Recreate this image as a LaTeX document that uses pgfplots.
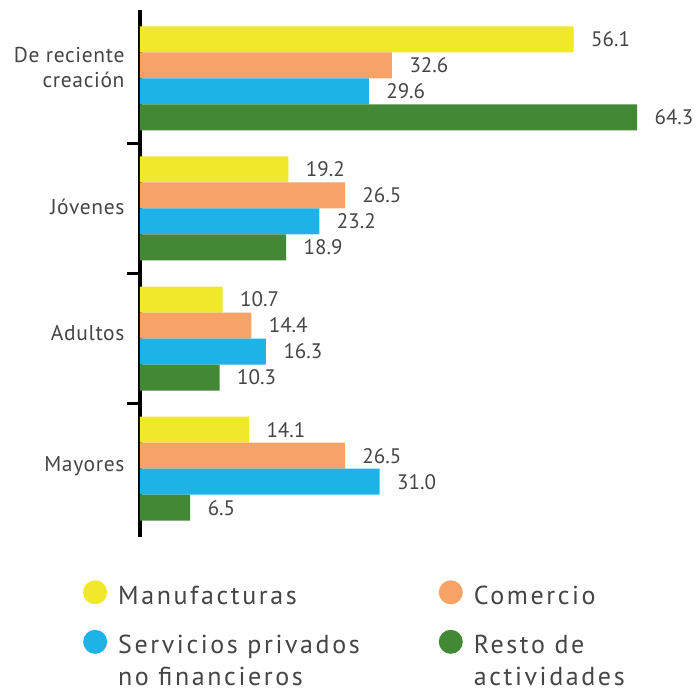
\documentclass[border=0pt]{standalone}
\usepackage{pgfplots}
\pgfplotsset{compat=1.18}
\usepackage{fontspec}
\setmainfont{PT Sans}
\newfontfamily\legfont[LetterSpace=10]{PT Sans}
\newfontfamily\catfont[LetterSpace=3]{PT Sans}
\definecolor{cyel}{HTML}{EFE82B}
\definecolor{cora}{HTML}{F7A266}
\definecolor{cblu}{HTML}{1EB3E6}
\definecolor{cgre}{HTML}{438935}
\definecolor{ctxt}{HTML}{454545}
\begin{document}
\begin{tikzpicture}[x=1pt,y=1pt]
\useasboundingbox (0,0) rectangle (696,689);
\begin{axis}[
  at={(140pt,152pt)}, anchor=south west,
  scale only axis, width=556pt, height=527pt,
  xmin=0, xmax=71.93, ymin=-0.525, ymax=3.525, y dir=reverse,
  hide x axis,
  axis y line=left,
  y axis line style={-, line width=3pt, black},
  ytick={-0.08,0.99,1.96,2.98},
  yticklabels={{De reciente\\creación},Jóvenes,Adultos,Mayores},
  yticklabel style={align=right, font=\fontsize{21.5}{25}\selectfont\catfont, text=ctxt},
  yticklabel shift=12pt,
  major tick length=0pt,
  extra y ticks={0.5,1.5,2.5},
  extra y tick labels={},
  extra y tick style={major tick length=13pt, tick align=outside, tick style={line width=3pt, black}},
  xbar, bar width=0.2,
  nodes near coords,
  nodes near coords style={font=\fontsize{21}{24}\selectfont, text=ctxt, anchor=west, xshift=14pt,
    /pgf/number format/.cd, fixed, fixed zerofill, precision=1, assume math mode=true},
  legend columns=2,
  legend cell align=left,
  legend style={at={(axis description cs:-0.108,-0.078)}, anchor=north west, draw=none,
    font=\fontsize{26}{32}\selectfont\legfont, text=ctxt,
    cells={align=left},
    row sep=22pt,
    /tikz/every even column/.append style={column sep=77pt},
    /tikz/every odd column/.append style={column sep=9pt}},
]
\addplot[fill=cyel, draw=none, bar shift=-0.3,
  legend image code/.code={\fill[cyel] (0pt,0.35em) circle (12pt);}] coordinates {(56.1,0) (19.2,1) (10.7,2) (14.1,3)};
\addplot[fill=cora, draw=none, bar shift=-0.1,
  legend image code/.code={\fill[cora] (0pt,0.35em) circle (12pt);}] coordinates {(32.6,0) (26.5,1) (14.4,2) (26.5,3)};
\addplot[fill=cblu, draw=none, bar shift=0.1,
  legend image code/.code={\fill[cblu] (0pt,0.35em+16pt) circle (12pt);}] coordinates {(29.6,0) (23.2,1) (16.3,2) (31.0,3)};
\addplot[fill=cgre, draw=none, bar shift=0.3,
  legend image code/.code={\fill[cgre] (0pt,0.35em+16pt) circle (12pt);}] coordinates {(64.3,0) (18.9,1) (10.3,2) (6.5,3)};
\legend{Manufacturas, Comercio, {Servicios privados\\no financieros}, {Resto de\\actividades}}
\end{axis}
\end{tikzpicture}
\end{document}
